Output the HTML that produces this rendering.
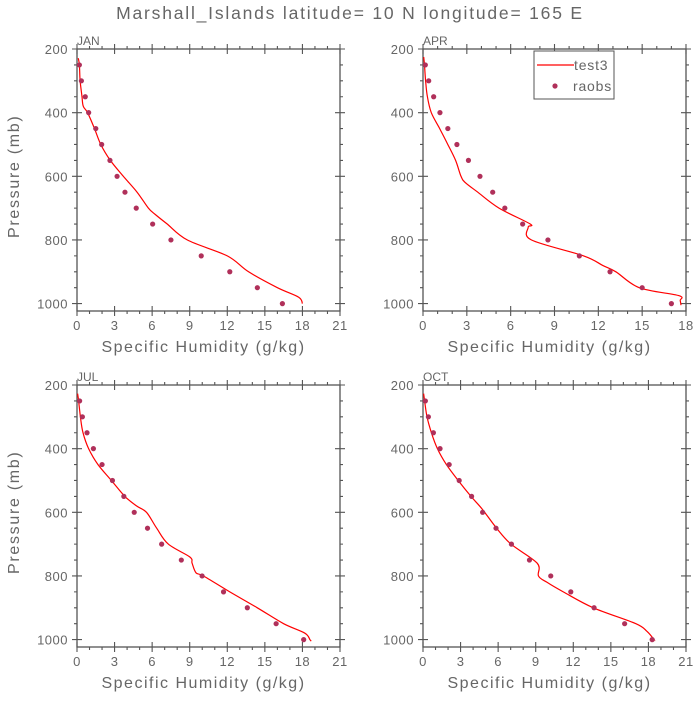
<!DOCTYPE html>
<html><head><meta charset="utf-8"><style>
body{margin:0;background:#fff;}
svg text{font-family:"Liberation Sans",sans-serif;fill:#666;}
</style></head><body>
<svg id="c" width="700" height="700" xmlns="http://www.w3.org/2000/svg">
<text x="350" y="19" text-anchor="middle" font-size="17.5" letter-spacing="1.8">Marshall_Islands  latitude= 10 N longitude= 165 E</text>
</svg>
<script>
const levels=[250,300,350,400,450,500,550,600,650,700,750,800,850,900,950,1000];
const janObs=[0.19,0.35,0.66,0.93,1.5,1.97,2.63,3.2,3.83,4.73,6.04,7.5,9.92,12.2,14.4,16.4];
const janLineP=[229,250,300,350,380,400,450,500,550,600,650,700,720,750,800,850,900,950,980,1000];
const janLineQ=[0.1,0.19,0.25,0.4,0.5,0.85,1.4,1.9,2.66,3.7,4.8,5.7,6.25,7.2,8.8,12,13.7,16,17.7,18];
const aprObs=[0.16,0.39,0.73,1.16,1.7,2.32,3.11,3.9,4.77,5.6,6.82,8.55,10.7,12.8,15.0,17.0];
const aprLineP=[225,250,300,350,400,450,500,550,600,620,650,700,750,760,800,850,880,900,950,975,990,1005];
const aprLineQ=[0.05,0.1,0.18,0.3,0.57,1.14,1.7,2.23,2.6,2.9,3.75,5.2,7.34,7.2,7.41,11.0,12.3,13.2,14.8,17.5,17.6,17.66];
const julObs=[0.21,0.43,0.8,1.31,2.0,2.83,3.74,4.57,5.63,6.76,8.33,9.99,11.7,13.6,15.9,18.1];
const julLineP=[227,250,300,350,400,450,500,550,580,600,650,700,740,760,790,800,850,900,950,980,1000,1005];
const julLineQ=[0.05,0.13,0.27,0.48,0.93,1.68,2.75,3.82,4.75,5.55,6.36,7.29,9.0,9.19,9.5,10.1,12.2,14.4,16.5,18.2,18.6,18.7];
const octObs=[0.19,0.43,0.83,1.36,2.09,2.89,3.88,4.76,5.83,7.06,8.5,10.2,11.8,13.66,16.1,18.3];
const octLineP=[227,250,300,350,400,450,500,550,590,650,700,760,800,820,850,900,950,975,1000,1003];
const octLineQ=[0.05,0.13,0.32,0.67,1.15,1.87,2.81,3.83,4.73,5.88,7.03,9.12,9.22,9.9,11.2,13.6,17.0,17.9,18.45,18.5];
const xTicksA=[0,3,6,9,12,15,18,21];
const xTicksB=[0,3,6,9,12,15,18];
const yTicks=[200,400,600,800,1000];
const panels=[
 {name:'jan',label:'JAN',l:77,t:49,xmax:21,xt:xTicksA,obs:janObs,lp:janLineP,lq:janLineQ,ylab:true,legend:false},
 {name:'apr',label:'APR',l:423,t:49,xmax:18,xt:xTicksB,obs:aprObs,lp:aprLineP,lq:aprLineQ,ylab:false,legend:true},
 {name:'jul',label:'JUL',l:77,t:385,xmax:21,xt:xTicksA,obs:julObs,lp:julLineP,lq:julLineQ,ylab:true,legend:false},
 {name:'oct',label:'OCT',l:423,t:385,xmax:21,xt:xTicksA,obs:octObs,lp:octLineP,lq:octLineQ,ylab:false,legend:false}
];
const NS='http://www.w3.org/2000/svg';
const svg=document.getElementById('c');
function mk(tag,attrs,parent){const e=document.createElementNS(NS,tag);for(const k in attrs)e.setAttribute(k,attrs[k]);(parent||svg).appendChild(e);return e;}
function smooth(P){
 let d=`M${P[0][0].toFixed(1)},${P[0][1].toFixed(1)}`;
 for(let i=0;i<P.length-1;i++){
  const p0=P[i-1]||P[i],p1=P[i],p2=P[i+1],p3=P[i+2]||P[i+1];
  const c1x=p1[0]+(p2[0]-p0[0])/6,c1y=p1[1]+(p2[1]-p0[1])/6;
  const c2x=p2[0]-(p3[0]-p1[0])/6,c2y=p2[1]-(p3[1]-p1[1])/6;
  d+=`C${c1x.toFixed(1)},${c1y.toFixed(1)} ${c2x.toFixed(1)},${c2y.toFixed(1)} ${p2[0].toFixed(1)},${p2[1].toFixed(1)}`;
 }
 return d;
}
const W=263,PH=254.6,FB=262;
panels.forEach(p=>{
 const g=mk('g',{});
 
 
 const xs=v=>p.l+v/p.xmax*W;
 const ys=v=>p.t+(v-200)/800*PH;
 const fr=mk('rect',{x:p.l,y:p.t,width:W,height:FB,fill:'none',stroke:'#555','stroke-width':1.3},g);
 
 
 let d='';
 for(let v=0;v<=p.xmax+0.001;v+=1){const x=xs(v);const maj=Math.abs(v%3)<0.01;const L=maj?5:3;
  d+=`M${x},${p.t+FB}v${L}M${x},${p.t}v${-L}`;if(maj)d+=`M${x},${p.t+FB}v${-5}M${x},${p.t}v5`;}
 for(let v=200;v<=1000;v+=50){const y=ys(v);const maj=v%200==0;const L=maj?5:3;
  d+=`M${p.l},${y}h${-L}M${p.l+W},${y}h${L}`;if(maj)d+=`M${p.l},${y}h5M${p.l+W},${y}h-5`;}
 const tk=mk('path',{d:d,stroke:'#555','stroke-width':1.1,fill:'none'},g);
 
 
 p.xt.forEach(v=>{const t=mk('text',{x:xs(v),y:p.t+FB+19,'text-anchor':'middle','font-size':13,'letter-spacing':0.5},g);t.textContent=v;
  
  });
 yTicks.forEach(v=>{const t=mk('text',{x:p.l-9,y:ys(v)+5,'text-anchor':'end','font-size':13,'letter-spacing':0.5},g);t.textContent=v;
  
  });
 const lb=mk('text',{x:p.l,y:p.t-4,'font-size':12},g);lb.textContent=p.label;
 
 
 const xt=mk('text',{x:p.l+W/2-5,y:p.t+FB+41,'text-anchor':'middle','font-size':16,'letter-spacing':1.5},g);xt.textContent='Specific Humidity (g/kg)';
 
 
 if(p.ylab){const yt=mk('text',{x:0,y:0,'text-anchor':'middle','font-size':16,'letter-spacing':1.7,transform:`translate(19,${p.t+PH/2}) rotate(-90)`},g);yt.textContent='Pressure (mb)';
  
  }
 const P=p.lp.map((v,i)=>[xs(p.lq[i]),ys(v)]);
 const ln=mk('path',{d:smooth(P),fill:'none',stroke:'#f00','stroke-width':1.2},g);
 
 
 levels.forEach((v,i)=>{const c=mk('circle',{cx:xs(p.obs[i]),cy:ys(v),r:2.6,fill:'#b0305a'},g);
  
  });
 if(p.legend){
  const lg=mk('g',{},g);
  
  
  mk('rect',{x:534,y:51,width:80,height:48,fill:'#fff',stroke:'#555','stroke-width':1},lg);
  const l1=mk('line',{x1:537,y1:65,x2:574,y2:65,stroke:'#f00','stroke-width':1.2},lg);
  
  
  const t1=mk('text',{x:574,y:70,'font-size':14,'letter-spacing':0.8},lg);t1.textContent='test3';
  
  
  const c1=mk('circle',{cx:555,cy:86,r:2.6,fill:'#b0305a'},lg);
  
  
  const t2=mk('text',{x:573,y:91,'font-size':14,'letter-spacing':0.8},lg);t2.textContent='raobs';
  
  
 }
});
</script>
</body></html>
